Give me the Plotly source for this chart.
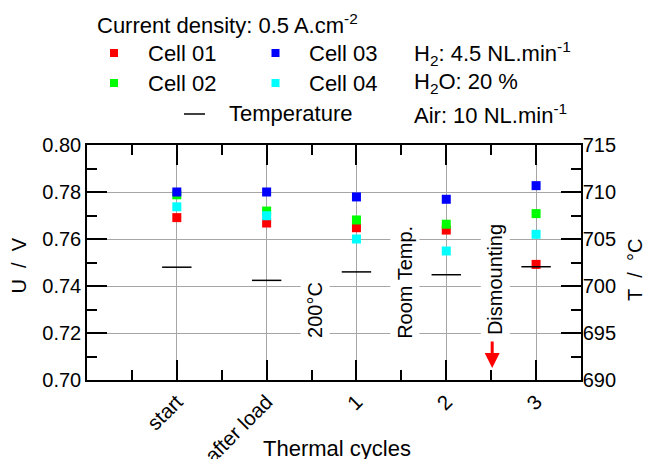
import plotly.graph_objects as go

# ---------------- data ----------------
categories = ["start", "after load", "1", "2", "3"]
cell01 = [0.7691, 0.7668, 0.7648, 0.7638, 0.7492]
cell02 = [0.7788, 0.7719, 0.7681, 0.7663, 0.7708]
cell03 = [0.7800, 0.7800, 0.7779, 0.7769, 0.7827]
cell04 = [0.7737, 0.7699, 0.7600, 0.7549, 0.7620]
temperature = [702.0, 700.6, 701.5, 701.2, 702.05]

events = ["200°C", "Room Temp.", "Dismounting"]
event_pos = [2.5, 3.5, 4.5]
event_y = [0.7296, 0.7415, 0.7426]

xpos = list(range(1, len(categories) + 1))

FONT = "Liberation Sans, Arial, sans-serif"
W, H = 652, 459
L, R, T, B = 87, 71, 145, 79
PW, PH = W - L - R, H - T - B


def px(x):
    return (x - L) / PW


def py(y):
    return (H - B - y) / PH


fig = go.Figure()

series = [
    ("Cell 01", cell01, "#ff0000"),
    ("Cell 02", cell02, "#00ff00"),
    ("Cell 04", cell04, "#00ffff"),
    ("Cell 03", cell03, "#0000ff"),
]
for name, vals, col in series:
    fig.add_trace(go.Scatter(x=xpos, y=vals, mode="markers", name=name,
                             marker=dict(symbol="square", size=9, color=col,
                                         line=dict(width=0)),
                             showlegend=False, cliponaxis=False))

fig.add_trace(go.Scatter(x=xpos, y=temperature, mode="markers", name="Temperature",
                         yaxis="y2",
                         marker=dict(symbol="line-ew", size=21,
                                     line=dict(width=1.5, color="black")),
                         showlegend=False))

annotations = []
shapes = []

# event annotations inside plot
for txt, xp, yv in zip(events, event_pos, event_y):
    annotations.append(dict(x=xp, y=yv, xref="x", yref="y", text=txt,
                            textangle=-90, showarrow=False, xshift=4,
                            xanchor="center", yanchor="middle",
                            font=dict(family=FONT, size=20, color="black"),
                            bgcolor="white", borderpad=3))
# red arrow under "Dismounting"
annotations.append(dict(x=event_pos[2], y=0.7051, ax=event_pos[2], ay=0.7170,
                        xref="x", yref="y", axref="x", ayref="y", text="",
                        showarrow=True, arrowhead=2, arrowsize=1, arrowwidth=3,
                        arrowcolor="#ff0000", xshift=1))

# axis titles
annotations.append(dict(x=px(18.5), y=py(266), xref="paper", yref="paper",
                        xanchor="center", yanchor="middle",
                        text="U\u00a0\u00a0/\u00a0\u00a0V", textangle=-90, showarrow=False,
                        font=dict(family=FONT, size=20, color="black")))
annotations.append(dict(x=px(635), y=py(270), xref="paper", yref="paper",
                        xanchor="center", yanchor="middle",
                        text="T\u00a0\u00a0/\u00a0\u00a0°C", textangle=-90, showarrow=False,
                        font=dict(family=FONT, size=20, color="black")))
annotations.append(dict(x=px(337), y=py(448), xref="paper", yref="paper",
                        xanchor="center", yanchor="middle",
                        text="Thermal cycles", showarrow=False,
                        font=dict(family=FONT, size=22, color="black")))

# legend block (text)
leg_font = dict(family=FONT, size=22, color="black")
legend_texts = [
    (95, 24, "Current density: 0.5 A.cm<sup>-2</sup>"),
    (146, 53, "Cell 01"),
    (146, 83, "Cell 02"),
    (307, 53, "Cell 03"),
    (307, 83, "Cell 04"),
    (227, 114, "Temperature"),
    (412, 53, "H<sub>2</sub>: 4.5 NL.min<sup>-1</sup>"),
    (412, 83, "H<sub>2</sub>O: 20 %"),
    (412, 114, "Air: 10 NL.min<sup>-1</sup>"),
]
for x0, y0, txt in legend_texts:
    annotations.append(dict(x=px(x0), y=py(y0), xref="paper", yref="paper",
                            xanchor="left", yanchor="middle", text=txt,
                            showarrow=False, font=leg_font))

legend_marks = [(114, 53, "#ff0000"), (114, 83, "#00ff00"),
                (275.5, 53, "#0000ff"), (275.5, 83, "#00ffff")]
for cx, cy, col in legend_marks:
    shapes.append(dict(type="rect", xref="paper", yref="paper",
                       xsizemode="pixel", ysizemode="pixel",
                       xanchor=px(cx), yanchor=py(cy),
                       x0=-4, x1=4, y0=-4, y1=4,
                       fillcolor=col, line=dict(width=0)))
shapes.append(dict(type="line", xref="paper", yref="paper",
                   x0=px(184), x1=px(205), y0=py(114), y1=py(114),
                   line=dict(color="black", width=1.5)))

fig.update_layout(
    width=W, height=H,
    margin=dict(l=L, r=R, t=T, b=B, autoexpand=False),
    paper_bgcolor="white", plot_bgcolor="white",
    font=dict(family=FONT, size=20, color="black"),
    showlegend=False,
    xaxis=dict(range=[0, 5.5], tickmode="array", tickvals=xpos, ticktext=categories,
               tickangle=-45, ticks="inside", ticklen=20, tickwidth=1.5, tickcolor="black",
               showline=True, linecolor="black", linewidth=1.5, mirror="ticks",
               showgrid=True, gridcolor="#a6a6a6", gridwidth=1, zeroline=False,
               tickfont=dict(family=FONT, size=20.5),
               minor=dict(tickmode="linear", tick0=0, dtick=0.5, ticks="inside",
                          ticklen=10, tickwidth=1.5, tickcolor="black", showgrid=False)),
    yaxis=dict(range=[0.70, 0.80], dtick=0.02, tick0=0.70, tickformat=".2f",
               ticks="inside", ticklen=20, tickwidth=1.5, tickcolor="black",
               showline=True, linecolor="black", linewidth=1.5, mirror=False,
               showgrid=True, gridcolor="#a6a6a6", gridwidth=1, zeroline=False,
               tickfont=dict(family=FONT, size=20),
               minor=dict(dtick=0.01, ticks="inside", ticklen=10, tickwidth=1.5,
                          tickcolor="black", showgrid=False)),
    yaxis2=dict(range=[690, 715], dtick=5, tick0=690, overlaying="y", side="right",
                ticks="inside", ticklen=20, tickwidth=1.5, tickcolor="black",
                showline=True, linecolor="black", linewidth=1.5,
                showgrid=False, zeroline=False, ticklabelstandoff=-4,
                tickfont=dict(family=FONT, size=20),
                minor=dict(dtick=2.5, ticks="inside", ticklen=10, tickwidth=1.5,
                           tickcolor="black", showgrid=False)),
    annotations=annotations,
    shapes=shapes,
)

fig.write_html("out.html")
